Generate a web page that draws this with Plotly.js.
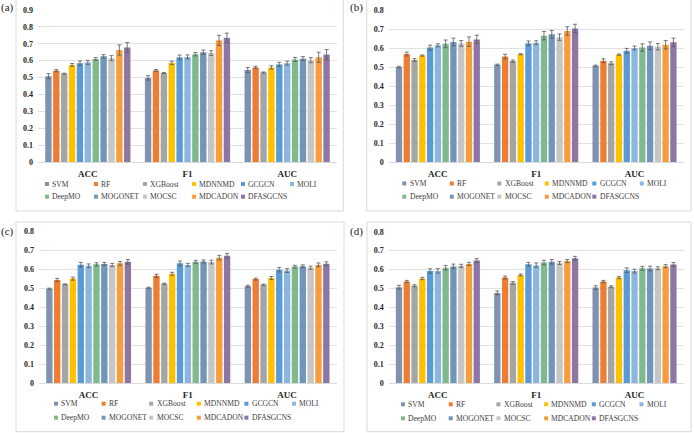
<!DOCTYPE html>
<html>
<head>
<meta charset="utf-8">
<script src="https://cdn.plot.ly/plotly-3.0.1.min.js"></script>
<style>html,body{margin:0;padding:0;background:#fff;}#chart{width:694px;height:433px;}</style>
</head>
<body>
<div id="chart"></div>
<script>
// ---------------- data ----------------
const categories = ['ACC', 'F1', 'AUC'];
const methods = ['SVM', 'RF', 'XGBoost', 'MDNNMD', 'GCGCN', 'MOLI', 'DeepMO', 'MOGONET', 'MOCSC', 'MDCADON', 'DFASGCNS'];
const colors = ['#7f93b0', '#ed7d31', '#a5a5a5', '#ffc000', '#5b9bd5', '#8db6de', '#7fb98c', '#7196ba', '#c6c6c6', '#f89c3c', '#8d76a3'];
const panelLabels = ['(a)', '(b)', '(c)', '(d)'];
const yTickMax = [0.9, 0.8, 0.8, 0.8];

// panel (a)
const aACC = [0.508, 0.541, 0.523, 0.575, 0.585, 0.590, 0.610, 0.626, 0.615, 0.663, 0.678];
const aACCerr = [0.015, 0.006, 0.003, 0.008, 0.013, 0.012, 0.008, 0.010, 0.015, 0.030, 0.030];
const aF1 = [0.498, 0.542, 0.527, 0.587, 0.620, 0.622, 0.638, 0.650, 0.645, 0.720, 0.735];
const aF1err = [0.013, 0.006, 0.003, 0.010, 0.013, 0.012, 0.010, 0.013, 0.014, 0.030, 0.028];
const aAUC = [0.545, 0.560, 0.530, 0.560, 0.578, 0.585, 0.607, 0.612, 0.603, 0.620, 0.636];
const aAUCerr = [0.015, 0.007, 0.003, 0.010, 0.012, 0.012, 0.012, 0.012, 0.015, 0.030, 0.030];

// panel (b)
const bACC = [0.500, 0.568, 0.537, 0.560, 0.602, 0.614, 0.622, 0.632, 0.624, 0.633, 0.645];
const bACCerr = [0.004, 0.010, 0.007, 0.003, 0.013, 0.008, 0.020, 0.020, 0.015, 0.025, 0.022];
const bF1 = [0.512, 0.555, 0.531, 0.567, 0.625, 0.628, 0.665, 0.672, 0.657, 0.690, 0.703];
const bF1err = [0.003, 0.012, 0.006, 0.003, 0.012, 0.010, 0.022, 0.020, 0.017, 0.022, 0.022];
const bAUC = [0.506, 0.533, 0.520, 0.565, 0.585, 0.600, 0.602, 0.612, 0.607, 0.617, 0.630];
const bAUCerr = [0.004, 0.010, 0.007, 0.003, 0.013, 0.010, 0.020, 0.020, 0.017, 0.022, 0.022];

// panel (c)
const cACC = [0.497, 0.543, 0.520, 0.550, 0.623, 0.617, 0.625, 0.627, 0.622, 0.630, 0.638];
const cACCerr = [0.003, 0.008, 0.002, 0.008, 0.012, 0.010, 0.008, 0.008, 0.008, 0.010, 0.012];
const cF1 = [0.502, 0.565, 0.523, 0.575, 0.630, 0.622, 0.638, 0.640, 0.637, 0.660, 0.670];
const cF1err = [0.003, 0.008, 0.003, 0.008, 0.012, 0.008, 0.008, 0.008, 0.010, 0.012, 0.012];
const cAUC = [0.510, 0.548, 0.518, 0.553, 0.597, 0.592, 0.613, 0.615, 0.607, 0.622, 0.628];
const cAUCerr = [0.005, 0.005, 0.003, 0.008, 0.012, 0.010, 0.007, 0.007, 0.008, 0.010, 0.010];

// panel (d)
const dACC = [0.507, 0.537, 0.515, 0.553, 0.592, 0.593, 0.610, 0.617, 0.620, 0.630, 0.648];
const dACCerr = [0.010, 0.006, 0.005, 0.006, 0.012, 0.012, 0.012, 0.012, 0.008, 0.008, 0.010];
const dF1 = [0.477, 0.558, 0.530, 0.572, 0.628, 0.623, 0.637, 0.641, 0.635, 0.645, 0.660];
const dF1err = [0.010, 0.008, 0.007, 0.005, 0.010, 0.012, 0.012, 0.012, 0.008, 0.008, 0.010];
const dAUC = [0.505, 0.537, 0.510, 0.558, 0.597, 0.592, 0.607, 0.606, 0.607, 0.618, 0.627];
const dAUCerr = [0.010, 0.006, 0.005, 0.006, 0.012, 0.010, 0.010, 0.012, 0.008, 0.008, 0.010];

const panelValues = [[aACC, aF1, aAUC], [bACC, bF1, bAUC], [cACC, cF1, cAUC], [dACC, dF1, dAUC]];
const panelErrors = [[aACCerr, aF1err, aAUCerr], [bACCerr, bF1err, bAUCerr], [cACCerr, cF1err, cAUCerr], [dACCerr, dF1err, dAUCerr]];

// ---------------- layout geometry (pixels) ----------------
const W = 694, H = 433;
const px = x => x / W;
const py = y => 1 - y / H;
const geom = [
  {x0: 38, x1: 337, yTop: 10, yBot: 162, box: [16, -5, 343.3, 211], lab: [7, 8], leg: {x0: 47, dx: 49, rows: [184, 196.7]}},
  {x0: 388.7, x1: 683.7, yTop: 10, yBot: 162, box: [366.7, -5, 691, 211], lab: [356.5, 8], leg: {x0: 404.3, dx: 47.5, rows: [183.5, 196.7]}},
  {x0: 39, x1: 336.7, yTop: 231, yBot: 383.3, box: [16, 222, 344, 431.7], lab: [7, 231], leg: {x0: 56, dx: 47.6, rows: [403.7, 417.7]}},
  {x0: 388.7, x1: 683.7, yTop: 231.7, yBot: 383.3, box: [367, 222, 691, 431.7], lab: [356.5, 231], leg: {x0: 403, dx: 47.7, rows: [404.3, 418.3]}}
];

const serif = 'Liberation Serif, Times New Roman, serif';
const traces = [];
const layout = {
  width: W, height: H,
  margin: {l: 0, r: 0, t: 0, b: 0},
  paper_bgcolor: '#ffffff', plot_bgcolor: '#ffffff',
  barmode: 'group', bargap: 0.13, bargroupgap: 0.19,
  showlegend: false,
  shapes: [], annotations: []
};

geom.forEach((g, p) => {
  const ax = p === 0 ? '' : String(p + 1);
  layout['xaxis' + ax] = {
    domain: [px(g.x0), px(g.x1)],
    anchor: 'y' + ax,
    type: 'category',
    showgrid: false, zeroline: false,
    showline: true, linecolor: '#d9d9d9', linewidth: 1,
    ticks: '', ticklabelstandoff: 3,
    tickfont: {family: serif, size: 9, color: '#262626', weight: 'bold'},
    fixedrange: true
  };
  layout['yaxis' + ax] = {
    domain: [py(g.yBot), py(g.yTop)],
    anchor: 'x' + ax,
    range: [0, yTickMax[p]],
    dtick: 0.1, tick0: 0,
    showgrid: true, gridcolor: '#d9d9d9', gridwidth: 0.8,
    zeroline: false, showline: false, ticks: '',
    ticklabelstandoff: 4,
    tickfont: {family: serif, size: 8, color: '#262626', weight: 'bold'},
    fixedrange: true
  };
  methods.forEach((m, i) => {
    traces.push({
      type: 'bar', name: m,
      x: categories,
      y: panelValues[p].map(arr => arr[i]),
      error_y: {type: 'data', array: panelErrors[p].map(arr => arr[i]), visible: true,
                color: '#595959', thickness: 0.8, width: 2},
      marker: {color: colors[i], line: {width: 0}},
      xaxis: 'x' + ax, yaxis: 'y' + ax,
      hoverinfo: 'none'
    });
  });
  // panel frame
  layout.shapes.push({type: 'rect', xref: 'paper', yref: 'paper',
    x0: px(g.box[0]), x1: px(g.box[2]), y0: py(g.box[3]), y1: py(g.box[1]),
    line: {color: '#d9d9d9', width: 1}, fillcolor: 'rgba(0,0,0,0)', layer: 'below'});
  // panel label
  layout.annotations.push({xref: 'paper', yref: 'paper', x: px(g.lab[0]), y: py(g.lab[1]),
    xanchor: 'center', yanchor: 'middle', showarrow: false, text: panelLabels[p],
    font: {family: serif, size: 11, color: '#222222'}});
  // legend entries
  methods.forEach((m, i) => {
    const row = i < 6 ? 0 : 1;
    const col = i < 6 ? i : i - 6;
    const mx = g.leg.x0 + col * g.leg.dx;
    const my = g.leg.rows[row];
    layout.shapes.push({type: 'rect', xref: 'paper', yref: 'paper',
      x0: px(mx - 2), x1: px(mx + 2), y0: py(my + 2), y1: py(my - 2),
      line: {width: 0}, fillcolor: colors[i]});
    layout.annotations.push({xref: 'paper', yref: 'paper', x: px(mx + 3.3), y: py(my),
      xanchor: 'left', yanchor: 'middle', showarrow: false, text: m,
      font: {family: serif, size: 7.6, color: '#404040'}});
  });
});

Plotly.newPlot('chart', traces, layout, {staticPlot: true, displayModeBar: false});
</script>
</body>
</html>
